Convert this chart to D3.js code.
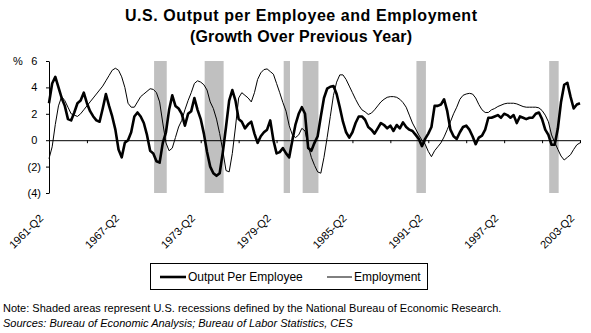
<!DOCTYPE html>
<html>
<head>
<meta charset="utf-8">
<script src="https://cdn.jsdelivr.net/npm/d3@7"></script>
<style>
  html, body { margin: 0; padding: 0; background: #fff; }
  svg { display: block; }
  text { font-family: "Liberation Sans", Arial, sans-serif; fill: #000; }
</style>
</head>
<body>
<svg id="chart" width="591" height="333"></svg>
<script>
// ---- Data (quarterly, 1961-Q2 .. 2003-Q2), growth over previous year, % ----
const outputPerEmployee = [
  2.8, 4.3, 4.8, 4.0, 3.2, 2.6, 1.6, 1.5, 2.1, 2.8, 3.0, 3.6, 2.8, 2.2, 1.8, 1.5, 1.4, 2.4, 3.5, 2.6,
  1.8, 0.8, -0.7, -1.3, -0.2, 0.0, 0.6, 1.8, 2.1, 1.8, 1.3, 0.4, -0.8, -1.0, -1.6, -1.7, -0.2, 0.6, 2.3, 3.4,
  2.6, 2.4, 2.0, 1.1, 2.0, 2.2, 3.2, 2.3, 1.6, 0.5, -0.9, -2.0, -2.5, -2.7, -2.5, -0.9, 1.0, 3.0, 3.8, 3.0,
  1.6, 1.4, 0.9, 1.2, 1.4, 0.5, -0.2, 0.3, 0.6, 0.8, 1.5, 0.0, -1.0, -0.9, -0.6, -1.0, -1.3, 0.0, 1.2, 2.0,
  2.5, 2.0, -0.6, -0.8, -0.2, 0.3, 1.8, 3.2, 3.9, 4.05, 4.1, 3.5, 2.5, 1.4, 0.6, 0.2, 0.6, 1.3, 1.8, 1.8,
  1.55, 1.0, 0.8, 0.5, 0.9, 1.3, 1.15, 0.9, 1.1, 0.7, 1.15, 0.9, 1.35, 1.0, 0.8, 0.7, 0.4, 0.1, -0.45, 0.1,
  0.5, 1.0, 2.6, 2.6, 2.7, 3.1, 2.2, 0.8, 0.3, 0.1, 0.6, 1.0, 1.1, 0.8, 0.3, -0.3, 0.2, 0.35, 0.8, 1.7,
  1.7, 1.8, 1.9, 1.7, 2.0, 1.9, 1.7, 1.9, 1.3, 1.8, 1.7, 1.6, 1.7, 1.7, 2.0, 2.1, 1.6, 0.8, 0.4, -0.35,
  -0.35, 0.9, 2.9, 4.2, 4.35, 3.3, 2.4, 2.7, 2.8
];
const employment = [
  -1.4, -0.5, 1.2, 2.6, 3.3, 3.0, 2.5, 2.0, 1.9, 1.8, 2.0, 2.3, 2.6, 2.9, 3.2, 3.5, 3.8, 4.1, 4.5, 4.9,
  5.3, 5.45, 5.3, 4.8, 4.0, 2.8, 2.5, 2.5, 2.9, 3.3, 3.5, 3.7, 3.9, 3.85, 3.6, 2.9, 1.3, -0.2, -0.8, -0.6,
  0.2, 1.0, 1.5, 2.3, 3.0, 3.6, 4.3, 4.5, 4.4, 4.2, 3.8, 2.9, 2.4, 1.6, 0.5, -0.8, -2.3, -2.4, -1.0, 1.0,
  3.2, 3.6, 3.4, 3.2, 2.9, 3.6, 4.6, 5.1, 5.35, 5.4, 5.2, 5.0, 4.3, 3.6, 2.85, 2.2, 1.1, 0.4, 0.2, 0.4,
  0.9, 0.7, -0.4, -1.3, -1.9, -2.4, -2.5, -1.3, 0.2, 1.8, 3.4, 4.4, 4.95, 4.95, 4.6, 4.1, 3.6, 3.1, 2.65, 2.3,
  2.15, 1.95, 2.05, 2.3, 2.6, 2.9, 3.1, 3.25, 3.3, 3.3, 3.25, 3.1, 2.85, 2.5, 1.9, 1.3, 0.85, 0.4, 0.0, -0.3,
  -0.85, -1.25, -0.8, -0.5, -0.2, 0.25, 0.8, 1.4, 2.0, 2.5, 3.1, 3.4, 3.5, 3.55, 3.5, 3.2, 2.7, 2.3, 2.1, 2.1,
  2.3, 2.4, 2.55, 2.65, 2.75, 2.8, 2.8, 2.8, 2.75, 2.65, 2.55, 2.5, 2.5, 2.5, 2.5, 2.45, 2.25, 1.9, 1.4, 0.4,
  -0.15, -0.7, -1.2, -1.5, -1.3, -1.1, -0.7, -0.35, -0.2
];
const firstYear = 1961, firstQuarter = 2;
const xTickLabels = ["1961-Q2", "1967-Q2", "1973-Q2", "1979-Q2", "1985-Q2", "1991-Q2", "1997-Q2", "2003-Q2"];
const yTicks = [6, 4, 2, 0, -2, -4];
const recessionStart = ["1969-Q4", "1973-Q4", "1980-Q1", "1981-Q3", "1990-Q3", "2001-Q1"];
const recessionEnd   = ["1970-Q3", "1975-Q1", "1980-Q2", "1982-Q3", "1991-Q1", "2001-Q3"];
const seriesNames = ["Output Per Employee", "Employment"];
const titleLines = ["U.S. Output per Employee and Employment", "(Growth Over Previous Year)"];
const noteText = "Note: Shaded areas represent U.S. recessions defined by the National Bureau of Economic Research.";
const sourceText = "Sources: Bureau of Economic Analysis; Bureau of Labor Statistics, CES";

// ---- Category labels ----
const n = Math.max(outputPerEmployee.length, employment.length);
const quarters = d3.range(n).map(i => {
  const k = (firstQuarter - 1) + i;
  return (firstYear + Math.floor(k / 4)) + "-Q" + (k % 4 + 1);
});
const idx = q => quarters.indexOf(q);

// ---- Layout ----
const svg = d3.select("#chart");
const plotLeft = 49, plotRight = 580, plotTop = 61, plotBottom = 193;
const x = d3.scaleLinear().domain([0, n - 1]).range([plotLeft, plotRight]);
const y = d3.scaleLinear().domain([-4, 6]).range([plotBottom, plotTop]);
const step = x(1) - x(0);

// Title
svg.append("g").selectAll("text").data(titleLines).join("text")
  .attr("x", 301).attr("y", (d, i) => 21 + i * 21)
  .attr("text-anchor", "middle")
  .style("font-size", "16px").style("font-weight", "bold")
  .attr("textLength", (d, i) => i === 0 ? 352 : 222)
  .attr("lengthAdjust", "spacing")
  .text(d => d);

// Recession bands
svg.append("g").selectAll("rect").data(recessionStart).join("rect")
  .attr("x", (d) => x(idx(d)) - 0.75 * step)
  .attr("width", (d, i) => x(idx(recessionEnd[i])) - x(idx(d)) + step)
  .attr("y", y(6)).attr("height", y(-4) - y(6))
  .attr("fill", "#c0c0c0");

// Y axis
const yAxis = d3.axisLeft(y).tickValues(yTicks).tickSize(3).tickSizeOuter(0)
  .tickFormat(v => v < 0 ? "(" + (-v) + ")" : String(v));
const gy = svg.append("g").attr("transform", `translate(${plotLeft},0)`).call(yAxis);
gy.select(".domain").attr("stroke", "#000");
gy.selectAll(".tick line").attr("stroke", "#000");
gy.selectAll(".tick text")
  .style("font-size", "11px").style("font-family", '"Liberation Sans", Arial, sans-serif')
  .attr("fill", "#000")
  .attr("x", v => v < 0 ? -8 : -11.7);
svg.append("text").attr("x", 13).attr("y", y(6) + 4).style("font-size", "11px").text("%");

// Zero line with category ticks
const gx = svg.append("g").attr("transform", `translate(0,${y(0)})`)
  .call(d3.axisBottom(x).tickValues(d3.range(12, n, 12)).tickSize(3).tickSizeOuter(0).tickFormat(""));
gx.select(".domain").attr("stroke", "#000");
gx.selectAll(".tick line").attr("stroke", "#000");

// X labels (rotated)
svg.append("g").selectAll("text").data(xTickLabels).join("text")
  .attr("transform", d => `translate(${x(idx(d)) - 5},${219}) rotate(-45)`)
  .attr("text-anchor", "end")
  .style("font-size", "11px")
  .text(d => d);

// Lines
const line = d3.line().x((d, i) => x(i)).y(d => y(d));
svg.append("path").datum(employment).attr("d", line)
  .attr("fill", "none").attr("stroke", "#000").attr("stroke-width", 1);
svg.append("path").datum(outputPerEmployee).attr("d", line)
  .attr("fill", "none").attr("stroke", "#000").attr("stroke-width", 2.6)
  .attr("stroke-linejoin", "round");

// Legend
const lg = svg.append("g");
lg.append("rect").attr("x", 150.5).attr("y", 263.5).attr("width", 277).attr("height", 26)
  .attr("fill", "#fff").attr("stroke", "#000").attr("stroke-width", 1);
const legendItems = [
  { name: seriesNames[0], w: 2.6, x0: 160, x1: 186, tx: 188 },
  { name: seriesNames[1], w: 1, x0: 327, x1: 352, tx: 354 }
];
legendItems.forEach(it => {
  lg.append("line").attr("x1", it.x0).attr("x2", it.x1).attr("y1", 277).attr("y2", 277)
    .attr("stroke", "#000").attr("stroke-width", it.w);
  lg.append("text").attr("x", it.tx).attr("y", 281).style("font-size", "12px").text(it.name);
});

// Footnotes
svg.append("text").attr("x", 3).attr("y", 312).style("font-size", "11px").text(noteText);
svg.append("text").attr("x", 3).attr("y", 327).style("font-size", "11px").style("font-style", "italic").text(sourceText);
</script>
</body>
</html>
